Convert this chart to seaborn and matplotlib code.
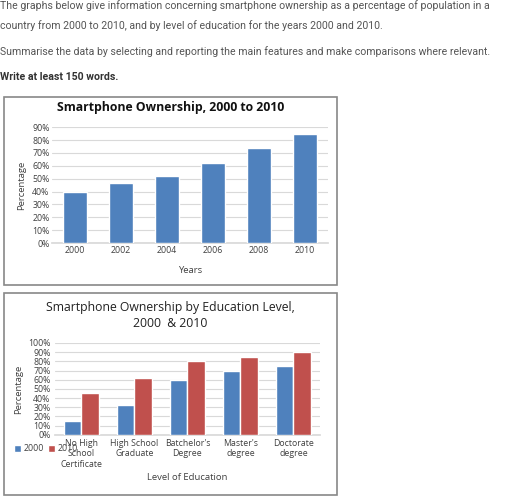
import matplotlib
matplotlib.use("Agg")
import matplotlib.pyplot as plt
import seaborn as sns
import pandas as pd
from matplotlib.patches import Rectangle

years = ["2000", "2002", "2004", "2006", "2008", "2010"]
ownership = [40, 47, 52, 62, 74, 85]

levels = ["No High\nSchool\nCertificate", "High School\nGraduate", "Batchelor's\nDegree",
          "Master's\ndegree", "Doctorate\ndegree"]
own_2000 = [15, 32, 60, 70, 75]
own_2010 = [45, 62, 80, 85, 90]

BLUE = "#4f81bd"
RED = "#c0504d"

sns.set_theme(style="white")
plt.rcParams["font.family"] = ["Open Sans", "DejaVu Sans"]

fig = plt.figure(figsize=(5.12, 4.97), dpi=100)
fig.patch.set_facecolor("white")

# prompt text
grey = "#555555"
fig.text(0.0, 0.988, "The graphs below give information concerning smartphone ownership as a percentage of population in a",
         fontsize=7.6, color=grey, family="Roboto", va="center")
fig.text(0.0, 0.948, "country from 2000 to 2010, and by level of education for the years 2000 and 2010.",
         fontsize=7.6, color=grey, family="Roboto", va="center")
fig.text(0.0, 0.896, "Summarise the data by selecting and reporting the main features and make comparisons where relevant.",
         fontsize=7.6, color=grey, family="Roboto", va="center")
fig.text(0.0, 0.845, "Write at least 150 words.", fontsize=7.6, color="#333333", family="Roboto",
         weight="bold", va="center")

# frames
for y0, h in [(0.427, 0.378), (0.004, 0.406)]:
    fig.add_artist(Rectangle((0.008, y0), 0.65, h, transform=fig.transFigure,
                             fill=False, edgecolor="#888888", linewidth=1.2))

# chart 1
df1 = pd.DataFrame({"year": years, "pct": ownership})
ax1 = fig.add_axes([0.102, 0.511, 0.539, 0.233])
sns.barplot(data=df1, x="year", y="pct", color=BLUE, width=0.52, saturation=1, ax=ax1, zorder=3)
ax1.set_ylim(0, 90)
ax1.set_yticks(range(0, 91, 10))
ax1.set_yticklabels([f"{v}%" for v in range(0, 91, 10)])
ax1.yaxis.grid(True, color="#d9d9d9", linewidth=0.8)
ax1.set_axisbelow(True)
for s in ["top", "right", "left"]:
    ax1.spines[s].set_visible(False)
ax1.spines["bottom"].set_color("#d9d9d9")
ax1.tick_params(labelsize=6.3, colors="#404040", length=0, pad=2)
ax1.set_xlabel("Years", fontsize=6.8, color="#404040", labelpad=8)
ax1.set_ylabel("Percentage", fontsize=6.8, color="#404040")
fig.text(0.333, 0.784, "Smartphone Ownership, 2000 to 2010", fontsize=8.8, weight="bold",
         color="#111111", ha="center", va="center")

# chart 2
df2 = pd.DataFrame({
    "level": levels * 2,
    "pct": own_2000 + own_2010,
    "year": ["2000"] * 5 + ["2010"] * 5,
})
ax2 = fig.add_axes([0.107, 0.125, 0.518, 0.185])
sns.barplot(data=df2, x="level", y="pct", hue="year", palette=[BLUE, RED], width=0.67,
            saturation=1, ax=ax2, zorder=3)
ax2.set_ylim(0, 100)
ax2.set_yticks(range(0, 101, 10))
ax2.set_yticklabels([f"{v}%" for v in range(0, 101, 10)])
ax2.yaxis.grid(True, color="#d9d9d9", linewidth=0.8)
ax2.set_axisbelow(True)
for s in ["top", "right", "left"]:
    ax2.spines[s].set_visible(False)
ax2.spines["bottom"].set_color("#d9d9d9")
ax2.tick_params(labelsize=6.3, colors="#404040", length=0, pad=3)
ax2.set_xlabel("Level of Education", fontsize=6.8, color="#404040", labelpad=3)
ax2.set_ylabel("Percentage", fontsize=6.8, color="#404040")
fig.text(0.333, 0.365, "Smartphone Ownership by Education Level,\n2000  & 2010", fontsize=8.8,
         color="#222222", ha="center", va="center", linespacing=1.35)
ax2.legend_.remove()
handles, labels = ax2.get_legend_handles_labels()
fig.legend(handles, labels, loc="center left", bbox_to_anchor=(0.012, 0.097), ncol=2,
           frameon=False, fontsize=6.3, handlelength=0.8, handleheight=0.8,
           handletextpad=0.3, columnspacing=0.5, labelcolor="#404040")

fig.savefig("out.png", dpi=100)
